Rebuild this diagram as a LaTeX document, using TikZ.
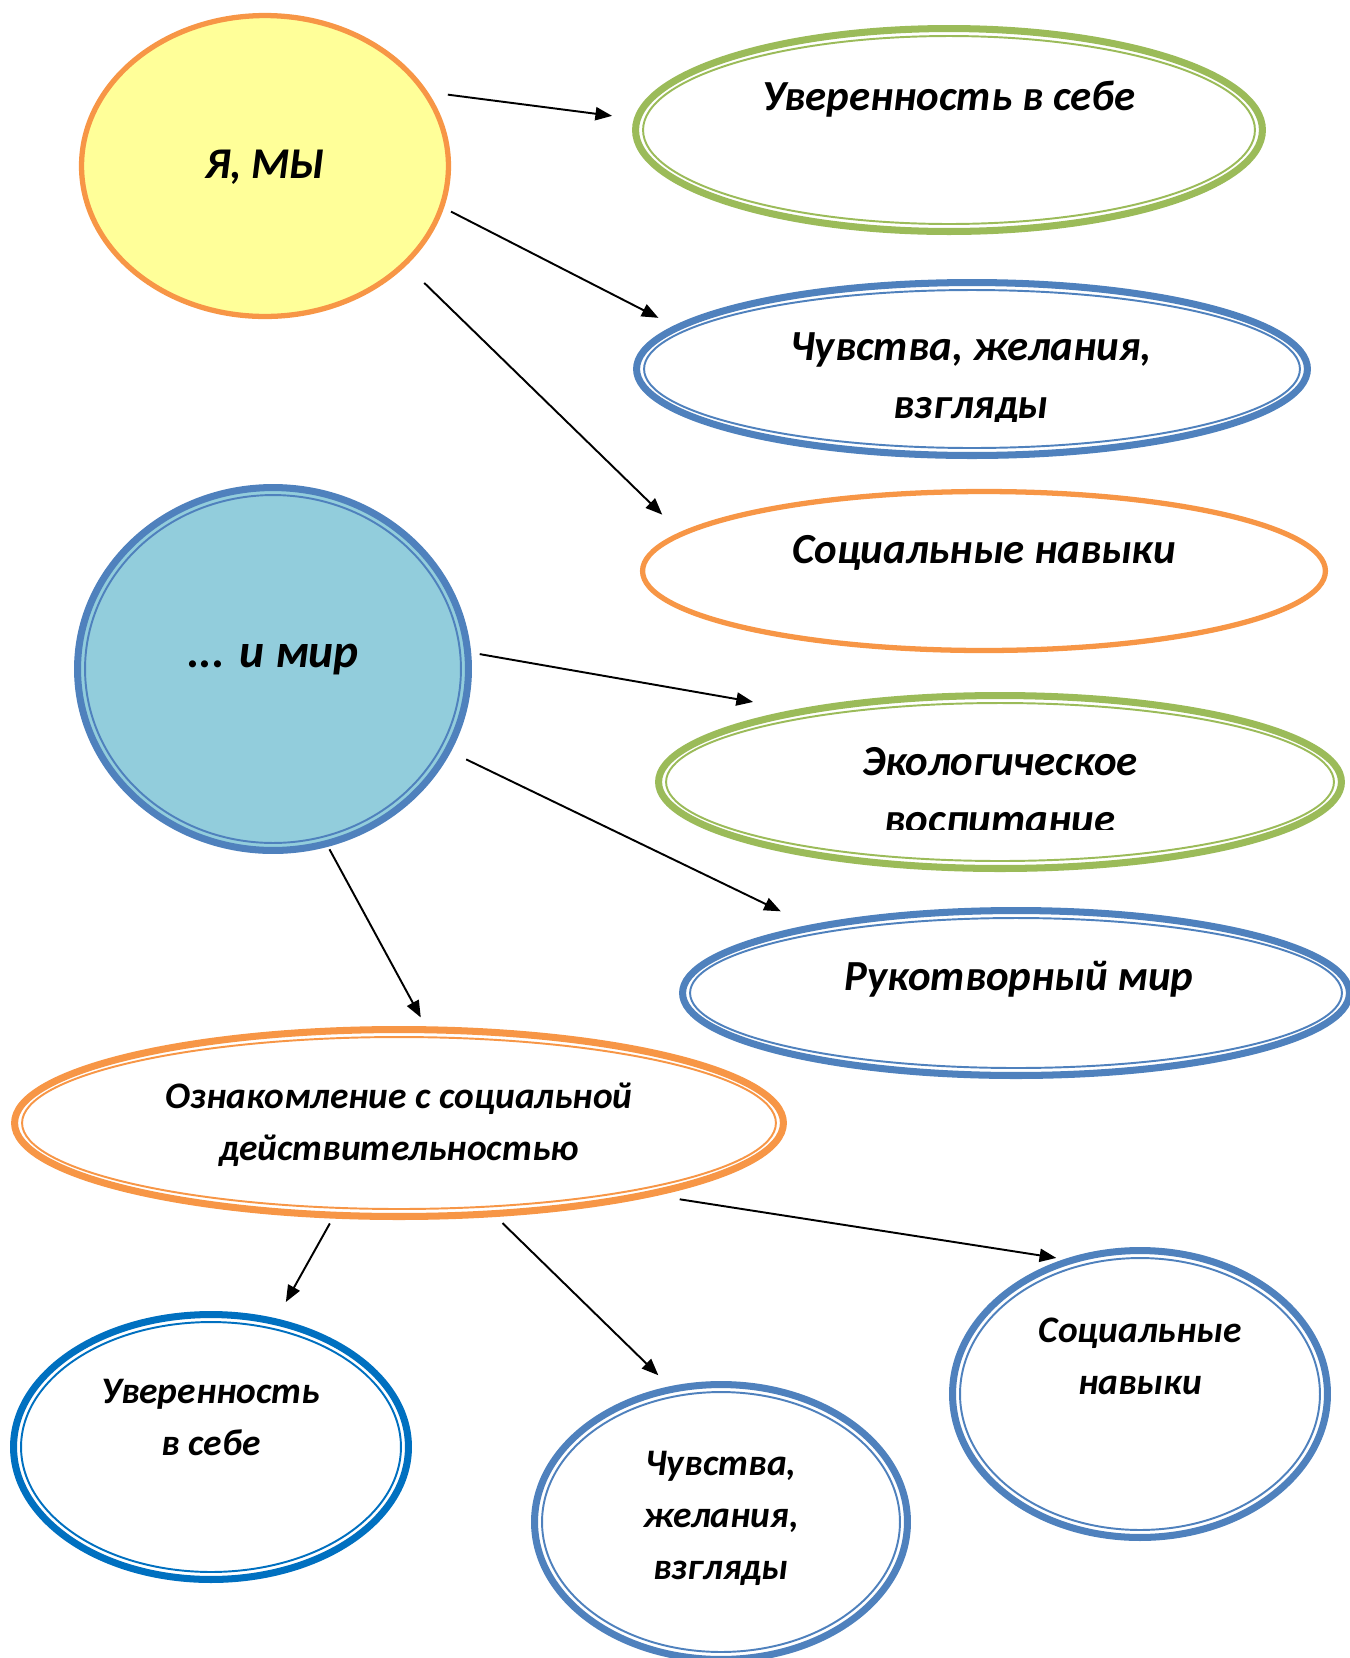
\documentclass[tikz,border=0pt]{standalone}
\usepackage{fontspec}
\setmainfont{Carlito}
\usetikzlibrary{positioning, arrows.meta, shapes.geometric}
\definecolor{orng}{RGB}{247,150,70}
\definecolor{grn}{RGB}{155,187,89}
\definecolor{blu}{RGB}{79,129,189}
\definecolor{dblu}{RGB}{0,112,192}
\definecolor{yel}{RGB}{255,255,153}
\definecolor{aqua}{RGB}{146,205,220}

\begin{document}
\begin{tikzpicture}
[->/.style={line width=1.1pt, arrows={-Triangle[length=9.5pt, width=7.5pt]}},
   ring/.style={shape=ellipse, draw=#1, line width=4pt, fill=white, inner sep=0pt, outer sep=0pt},
   plain/.style={shape=ellipse, draw=#1, line width=3pt, fill=white, inner sep=0pt, outer sep=0pt},
   inring/.style={draw=#1, line width=1.1pt},
   txt/.style={font=\fontsize{24.4}{32.5}\selectfont\bfseries\itshape, align=center, anchor=base, inner sep=0pt},
   small/.style={font=\fontsize{21.3}{29.6}\selectfont\bfseries\itshape},
   x=0.02cm, y=-0.02cm]
\useasboundingbox (0,0) rectangle (1350,1658);
%% upper part
\node[plain=orng, fill=yel, minimum width=7.34cm, minimum height=6.02cm] (YaMy) at (265,166) {};
\node[ring=grn, minimum width=12.54cm, minimum height=4.06cm] (Conf) at (949,130) {};
\draw[inring=grn] (Conf.center) ellipse [x radius=6.12cm, y radius=1.88cm];
\node[ring=blu, minimum width=13.42cm, minimum height=3.46cm] (Feel) at (972,369) {};
\draw[inring=blu] (Feel.center) ellipse [x radius=6.56cm, y radius=1.58cm];
\node[plain=orng, minimum width=13.66cm, minimum height=3.18cm] (Soc) at (984,571) {};
\node[txt, font=\fontsize{25}{30}\selectfont\bfseries\itshape] (YaMyT) at (265,178) {Я, МЫ};
\node[txt] (ConfT) at (949,110) {Уверенность в себе};
\begin{scope}
\clip (560,300) rectangle (1350,421);
\node[txt] (FeelT) at (971,418) {Чувства, желания,\\взгляды};
\end{scope}
\node[txt] (SocT) at (984,563) {Социальные навыки};
\draw [->, shorten <=13.4pt, shorten >=14.5pt] (YaMy.25) to (Conf.178);
\draw [->, shorten <=6pt, shorten >=12.2pt] (YaMy.-13) to (Feel.172);
\draw [->, shorten <=15.7pt, shorten >=15.7pt] (YaMy.-35) to (Soc.173);
%% middle part
\node[ring=blu, fill=aqua, minimum width=7.82cm, minimum height=7.26cm] (Mir) at (273,669) {};
\draw[inring=blu] (Mir.center) ellipse [x radius=3.76cm, y radius=3.48cm];
\node[ring=grn, minimum width=13.66cm, minimum height=3.46cm] (Eco) at (1000,782) {};
\draw[inring=grn] (Eco.center) ellipse [x radius=6.68cm, y radius=1.58cm];
\node[ring=blu, minimum width=13.34cm, minimum height=3.30cm] (Hand) at (1016,993) {};
\draw[inring=blu] (Hand.center) ellipse [x radius=6.52cm, y radius=1.50cm];
\node[ring=orng, minimum width=15.38cm, minimum height=3.74cm] (Real) at (399,1123) {};
\draw[inring=orng] (Real.center) ellipse [x radius=7.54cm, y radius=1.72cm];
\node[txt, font=\fontsize{27}{32}\selectfont\bfseries\itshape] (MirT) at (273,667) {... и мир};
\begin{scope}
\clip (600,700) rectangle (1350,829);
\node[txt] (EcoT) at (1000,833) {Экологическое\\воспитание};
\end{scope}
\node[txt] (HandT) at (1019,990) {Рукотворный мир};
\node[txt, small] (RealT) at (399,1160) {Ознакомление с социальной\\действительностью};
\draw [->, shorten <=7pt, shorten >=30pt] (Mir.5) to (Eco.160);
\draw [->, shorten <=11.7pt, shorten >=21pt] (Mir.-25) to (Hand.162);
\draw [->, shorten <=3.7pt, shorten >=8pt] (Mir.-73) to (Real.73);
%% lower part
\node[ring=dblu, minimum width=7.90cm, minimum height=5.30cm] (Conf2) at (211,1447) {};
\draw[inring=dblu] (Conf2.center) ellipse [x radius=3.80cm, y radius=2.50cm];
\node[ring=blu, minimum width=7.46cm, minimum height=5.50cm] (Feel2) at (721,1522) {};
\draw[inring=blu] (Feel2.center) ellipse [x radius=3.58cm, y radius=2.60cm];
\node[ring=blu, minimum width=7.50cm, minimum height=5.74cm] (Soc2) at (1140,1394) {};
\draw[inring=blu] (Soc2.center) ellipse [x radius=3.60cm, y radius=2.72cm];
\node[txt, small] (Conf2T) at (211,1455) {Уверенность\\в себе};
\node[txt, small] (Feel2T) at (721,1579) {Чувства,\\желания,\\взгляды};
\node[txt, small] (Soc2T) at (1140,1394) {Социальные\\навыки};
\draw [->, shorten <=5.4pt, shorten >=12.8pt] (Real.-125) to (Conf2.63);
\draw [->, shorten <=7.7pt, shorten >=11.4pt] (Real.-44) to (Feel2.110);
\draw [->, shorten <=18.5pt, shorten >=9pt] (Real.-16) to (Soc2.117);
\end{tikzpicture}
\end{document}
